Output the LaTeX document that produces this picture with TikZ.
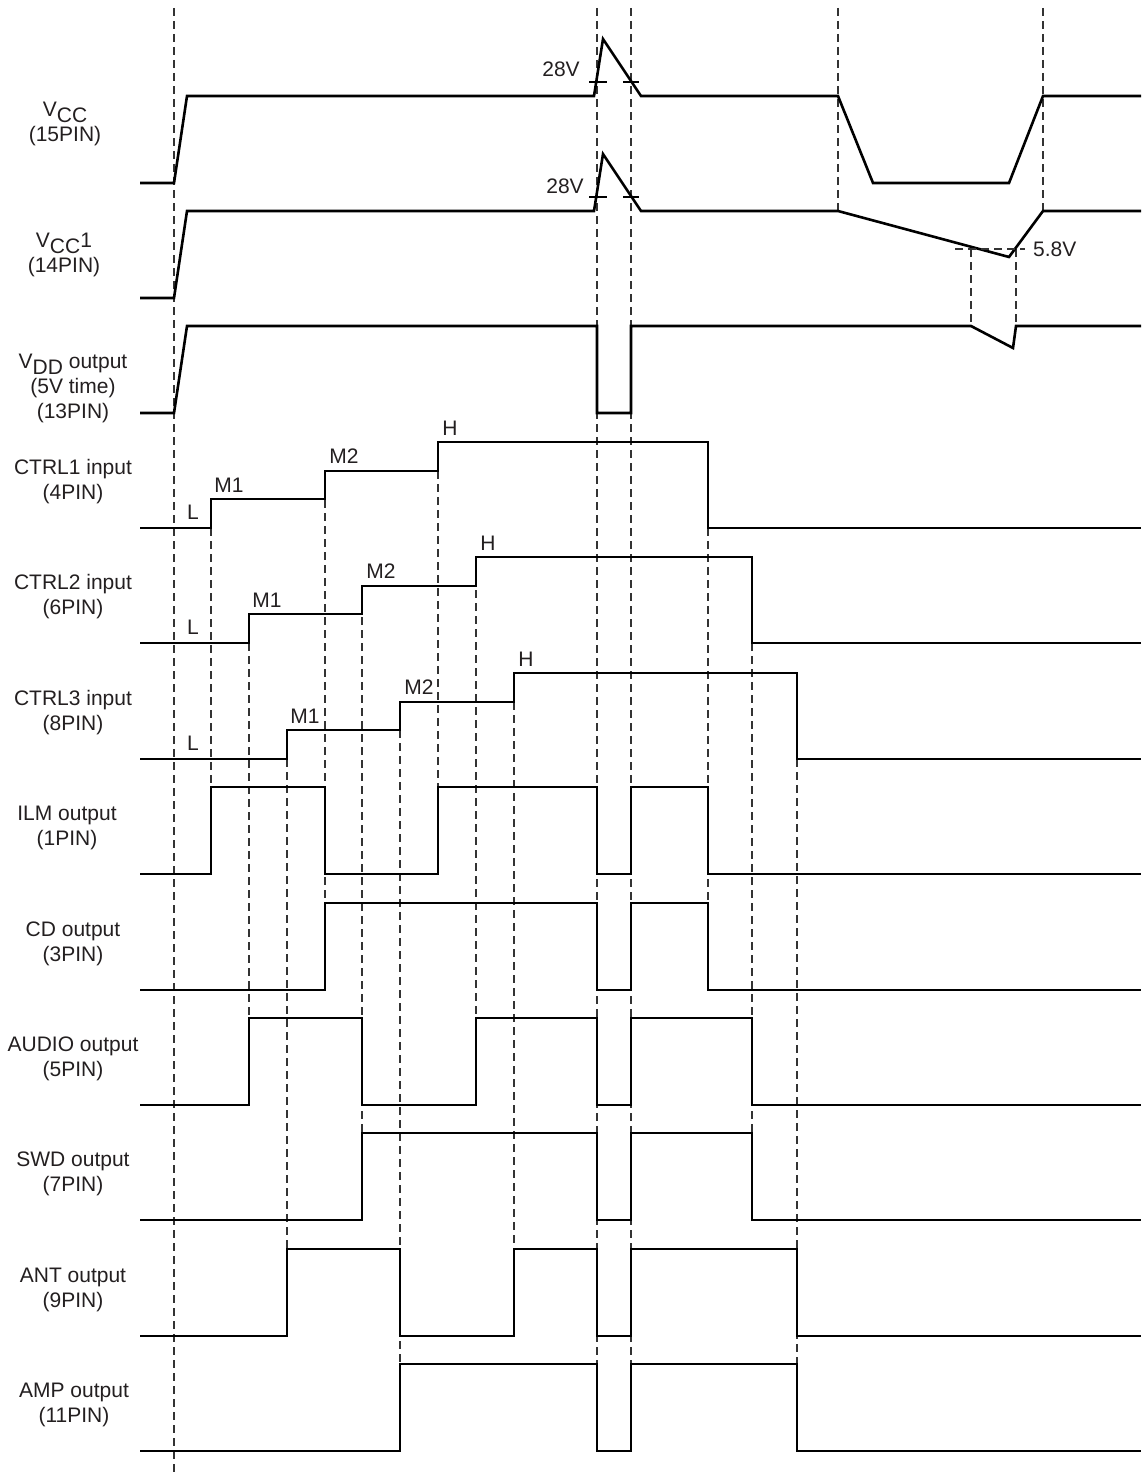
\documentclass[tikz,border=0pt]{standalone}
\usepackage{fontspec}
\setmainfont{Liberation Sans}
\definecolor{ink}{HTML}{231F20}
\definecolor{guidegray}{HTML}{333333}

\begin{document}
\begin{tikzpicture}[x=1pt,y=1pt,
  sig/.style={line width=2.6pt},
  guide/.style={line width=1.2pt,draw=guidegray,dash pattern=on 8pt off 5pt},
  thr/.style={line width=1.2pt},
  rowlbl/.style={font=\fontsize{21}{25}\selectfont,text=ink,align=center,inner sep=0pt},
  lvl/.style={font=\fontsize{21}{25}\selectfont,text=ink,inner sep=0pt}]
\useasboundingbox (0,0) rectangle (1141,-1472);
% ================= timing guides =================
\foreach \x/\ya/\yb in {174/8/1472,597/8/1364,631/8/1364,838/8/212,1043/8/212,
    211/528/788,249/643/1018,287/759/1249,325/500/903,362/617/1134,400/730/1364,
    438/471/788,476/590/1018,514/702/1249,708/528/903,752/643/1134,797/759/1364,
    971/249/327,1016/249/327}{
  \draw[guide] (\x,-\ya) -- (\x,-\yb);}
% ================= supplies =================
% ---------- VCC (15PIN) ----------
\begin{scope}[shift={(0,-183)}]
  \node[rowlbl] (vcc) at (65,59) {V\raisebox{-6pt}{CC}\\(15PIN)};
  \draw[sig] (140,0) -- (174,0) -- (187,87) -- (594,87) -- (603,144) -- (641,87)
    -- (838,87) -- (873,0) -- (1009,0) -- (1043,87) -- (1141,87);
  \draw[thr] (589,101) -- (607,101);
  \draw[thr] (623,101) -- (639,101);
  \node[lvl] (vccsurge) at (561,114) {28V};
\end{scope}
% ---------- VCC1 (14PIN) ----------
\begin{scope}[shift={(0,-298)}]
  \node[rowlbl] (vccone) at (64,43) {V\raisebox{-6pt}{CC}1\\(14PIN)};
  \draw[sig] (140,0) -- (174,0) -- (187,87) -- (594,87) -- (603,144) -- (641,87)
    -- (838,87) -- (1009,41) -- (1043,87) -- (1141,87);
  \draw[thr] (589,101) -- (607,101);
  \draw[thr] (623,101) -- (639,101);
  \node[lvl] (vcconesurge) at (565,112) {28V};
  \draw[guide] (955,49) -- (1025,49);
  \node[lvl,anchor=west] (vcconemin) at (1033,49) {5.8V};
\end{scope}
% ---------- VDD output (13PIN) ----------
\begin{scope}[shift={(0,-413)}]
  \node[rowlbl] (vdd) at (73,25) {V\raisebox{-6pt}{DD} output\\(5V time)\\(13PIN)};
  \draw[sig] (140,0) -- (174,0) -- (187,87) -- (597,87) -- (597,0) -- (631,0)
    -- (631,87) -- (971,87) -- (1013,65) -- (1016,87) -- (1141,87);
\end{scope}
% ================= control inputs =================
% ---------- CTRL1 (4PIN) ----------
\begin{scope}[shift={(0,-528)}]
  \node[rowlbl] (ctrlone) at (73,46) {CTRL1 input\\(4PIN)};
  \draw[sig] (140,0) -- (211,0) -- (211,29) -- (325,29) -- (325,57) -- (438,57)
    -- (438,86) -- (708,86) -- (708,0) -- (1141,0);
  \node[lvl] (c1L) at (193,16) {L};
  \node[lvl] (c1M1) at (229,43) {M1};
  \node[lvl] (c1M2) at (344,72) {M2};
  \node[lvl] (c1H) at (450,100) {H};
\end{scope}
% ---------- CTRL2 (6PIN) ----------
\begin{scope}[shift={(0,-643)}]
  \node[rowlbl] (ctrltwo) at (73,46) {CTRL2 input\\(6PIN)};
  \draw[sig] (140,0) -- (249,0) -- (249,29) -- (362,29) -- (362,57) -- (476,57)
    -- (476,86) -- (752,86) -- (752,0) -- (1141,0);
  \node[lvl] (c2L) at (193,16) {L};
  \node[lvl] (c2M1) at (267,43) {M1};
  \node[lvl] (c2M2) at (381,72) {M2};
  \node[lvl] (c2H) at (488,100) {H};
\end{scope}
% ---------- CTRL3 (8PIN) ----------
\begin{scope}[shift={(0,-759)}]
  \node[rowlbl] (ctrlthree) at (73,46) {CTRL3 input\\(8PIN)};
  \draw[sig] (140,0) -- (287,0) -- (287,29) -- (400,29) -- (400,57) -- (514,57)
    -- (514,86) -- (797,86) -- (797,0) -- (1141,0);
  \node[lvl] (c3L) at (193,16) {L};
  \node[lvl] (c3M1) at (305,43) {M1};
  \node[lvl] (c3M2) at (419,72) {M2};
  \node[lvl] (c3H) at (526,100) {H};
\end{scope}
% ================= outputs =================
% ---------- ILM (1PIN) ----------
\begin{scope}[shift={(0,-874)}]
  \node[rowlbl] (ilm) at (67,46) {ILM output\\(1PIN)};
  \draw[sig] (140,0) -- (211,0) -- (211,87) -- (325,87) -- (325,0) -- (438,0)
    -- (438,87) -- (597,87) -- (597,0) -- (631,0) -- (631,87) -- (708,87)
    -- (708,0) -- (1141,0);
\end{scope}
% ---------- CD (3PIN) ----------
\begin{scope}[shift={(0,-990)}]
  \node[rowlbl] (cd) at (73,46) {CD output\\(3PIN)};
  \draw[sig] (140,0) -- (325,0) -- (325,87) -- (597,87) -- (597,0) -- (631,0)
    -- (631,87) -- (708,87) -- (708,0) -- (1141,0);
\end{scope}
% ---------- AUDIO (5PIN) ----------
\begin{scope}[shift={(0,-1105)}]
  \node[rowlbl] (audio) at (73,46) {AUDIO output\\(5PIN)};
  \draw[sig] (140,0) -- (249,0) -- (249,87) -- (362,87) -- (362,0) -- (476,0)
    -- (476,87) -- (597,87) -- (597,0) -- (631,0) -- (631,87) -- (752,87)
    -- (752,0) -- (1141,0);
\end{scope}
% ---------- SWD (7PIN) ----------
\begin{scope}[shift={(0,-1220)}]
  \node[rowlbl] (swd) at (73,46) {SWD output\\(7PIN)};
  \draw[sig] (140,0) -- (362,0) -- (362,87) -- (597,87) -- (597,0) -- (631,0)
    -- (631,87) -- (752,87) -- (752,0) -- (1141,0);
\end{scope}
% ---------- ANT (9PIN) ----------
\begin{scope}[shift={(0,-1336)}]
  \node[rowlbl] (ant) at (73,46) {ANT output\\(9PIN)};
  \draw[sig] (140,0) -- (287,0) -- (287,87) -- (400,87) -- (400,0) -- (514,0)
    -- (514,87) -- (597,87) -- (597,0) -- (631,0) -- (631,87) -- (797,87)
    -- (797,0) -- (1141,0);
\end{scope}
% ---------- AMP (11PIN) ----------
\begin{scope}[shift={(0,-1451)}]
  \node[rowlbl] (amp) at (74,46) {AMP output\\(11PIN)};
  \draw[sig] (140,0) -- (400,0) -- (400,87) -- (597,87) -- (597,0) -- (631,0)
    -- (631,87) -- (797,87) -- (797,0) -- (1141,0);
\end{scope}
\end{tikzpicture}
\end{document}
